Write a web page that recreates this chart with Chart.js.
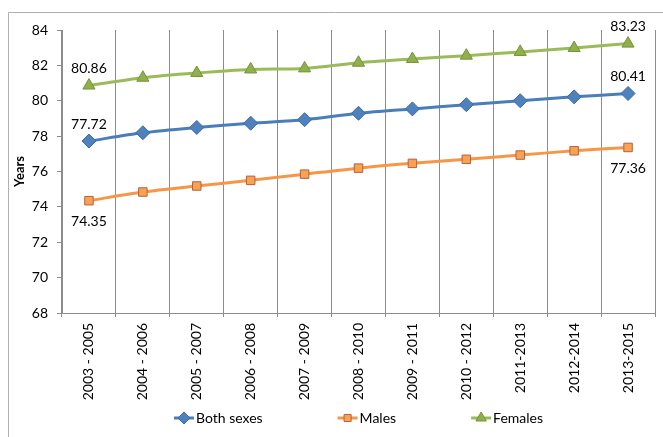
<!DOCTYPE html>
<html>
<head>
<meta charset="utf-8">
<script src="https://cdn.jsdelivr.net/npm/chart.js@4.4.0/dist/chart.umd.min.js"></script>
<style>
  html, body { margin: 0; padding: 0; background: #ffffff; }
  #wrap { position: relative; width: 663px; height: 437px; }
</style>
</head>
<body>
<div id="wrap"><canvas id="chart" width="663" height="437"></canvas></div>
<script>
// Kategorien (Zeiträume)
const periods = ["2003 - 2005", "2004 - 2006", "2005 - 2007", "2006 - 2008", "2007 - 2009",
  "2008 - 2010", "2009 - 2011", "2010 - 2012", "2011-2013", "2012-2014", "2013-2015"];

// Lebenserwartung in Jahren
const bothSexes = [77.72, 78.19, 78.49, 78.73, 78.93, 79.29, 79.54, 79.78, 80.0, 80.22, 80.41];
const males     = [74.35, 74.84, 75.18, 75.50, 75.85, 76.19, 76.46, 76.69, 76.93, 77.17, 77.36];
const females   = [80.86, 81.30, 81.57, 81.77, 81.83, 82.15, 82.36, 82.55, 82.76, 82.98, 83.23];

// Y-Achse
const yMin = 68;
const yMax = 84;
const yStep = 2;

const FONT = "Lato, 'Liberation Sans', sans-serif";
const GRID = '#8c8c8c';

// Werte-Beschriftung am ersten und letzten Punkt + Rahmen + Legende
const excelLook = {
  id: 'excelLook',
  beforeDraw(chart) {
    const ctx = chart.ctx;
    ctx.save();
    ctx.strokeStyle = '#b0b0b0';
    ctx.lineWidth = 1;
    ctx.beginPath();
    ctx.moveTo(8.5, chart.height);
    ctx.lineTo(8.5, 12.5);
    ctx.lineTo(chart.width, 12.5);
    ctx.stroke();
    ctx.restore();
  },
  afterDatasetsDraw(chart) {
    const ctx = chart.ctx;
    ctx.save();
    ctx.font = '14px ' + FONT;
    ctx.fillStyle = '#000000';
    ctx.textAlign = 'center';
    ctx.textBaseline = 'middle';
    chart.data.datasets.forEach((ds, i) => {
      const meta = chart.getDatasetMeta(i);
      const last = ds.data.length - 1;
      [0, last].forEach(idx => {
        const pt = meta.data[idx];
        const dy = ds.labelBelow ? 21 : -17;
        ctx.fillText(ds.data[idx].toFixed(2), pt.x, pt.y + dy);
      });
    });
    ctx.restore();
  },
  afterDraw(chart) {
    // Legende im Excel-Stil: Linie mit Marker, dann Text
    const ctx = chart.ctx;
    const area = chart.chartArea;
    ctx.save();
    ctx.font = '14px ' + FONT;
    ctx.textBaseline = 'middle';
    ctx.textAlign = 'left';
    const gap = 75, lineW = 20;
    const items = chart.data.datasets.map(ds => ({ds, w: lineW + 2 + ctx.measureText(ds.label).width}));
    const total = items.reduce((s, it) => s + it.w, 0) + gap * (items.length - 1);
    let x = (area.left + area.right) / 2 - total / 2;
    const y = 418;
    items.forEach(it => {
      const ds = it.ds;
      ctx.strokeStyle = ds.borderColor;
      ctx.lineWidth = 3;
      ctx.beginPath();
      ctx.moveTo(x, y);
      ctx.lineTo(x + lineW, y);
      ctx.stroke();
      ctx.fillStyle = ds.pointBackgroundColor;
      ctx.strokeStyle = ds.pointBorderColor;
      ctx.lineWidth = 1;
      Chart.helpers.drawPoint(ctx, {
        pointStyle: ds.pointStyle,
        radius: ds.pointRadius - 1,
        borderWidth: 1,
        rotation: 0
      }, x + lineW / 2, y);
      ctx.fillStyle = '#000000';
      ctx.fillText(ds.label, x + lineW + 2, y);
      x += it.w + gap;
    });
    ctx.restore();
  }
};

new Chart(document.getElementById('chart'), {
  type: 'line',
  data: {
    labels: periods,
    datasets: [
      {
        label: 'Both sexes',
        data: bothSexes,
        borderColor: '#4a7ebb',
        borderWidth: 3,
        pointStyle: 'rectRot',
        pointRadius: 7,
        pointBackgroundColor: '#4f81bd',
        pointBorderColor: '#3a6aa6',
        pointBorderWidth: 1,
        tension: 0.3
      },
      {
        label: 'Males',
        data: males,
        labelBelow: true,
        borderColor: '#f79646',
        borderWidth: 3,
        pointStyle: 'rect',
        pointRadius: 6,
        pointBackgroundColor: '#f9a24f',
        pointBorderColor: '#b3604a',
        pointBorderWidth: 1,
        tension: 0.3
      },
      {
        label: 'Females',
        data: females,
        borderColor: '#9bbb59',
        borderWidth: 3,
        pointStyle: 'triangle',
        pointRadius: 7,
        pointBackgroundColor: '#8fb04a',
        pointBorderColor: '#76923c',
        pointBorderWidth: 1,
        tension: 0.3
      }
    ]
  },
  options: {
    responsive: false,
    animation: false,
    layout: { padding: { left: 9, top: 30, right: 1, bottom: 0 } },
    plugins: {
      legend: { display: false },
      tooltip: { enabled: false }
    },
    scales: {
      x: {
        offset: true,
        afterFit: scale => { scale.height = 124; },
        grid: {
          offset: true,
          drawOnChartArea: true,
          tickLength: 4,
          color: ctx => ctx.index === periods.length ? 'rgba(0,0,0,0)' : GRID
        },
        border: { display: true, color: GRID, width: 1 },
        ticks: {
          autoSkip: false,
          minRotation: 90,
          maxRotation: 90,
          padding: 6,
          color: '#000000',
          font: { family: FONT, size: 14 }
        }
      },
      y: {
        min: yMin,
        max: yMax,
        afterFit: scale => { scale.width = 53; },
        grid: { drawOnChartArea: false, drawTicks: true, tickLength: 5, color: GRID },
        border: { display: true, color: GRID, width: 1 },
        ticks: {
          stepSize: yStep,
          padding: 9,
          color: '#000000',
          font: { family: FONT, size: 14 }
        },
        title: {
          display: true,
          text: 'Years',
          color: '#000000',
          padding: { top: 3, bottom: 0 },
          font: { family: FONT, size: 13, weight: 'bold' }
        }
      }
    }
  },
  plugins: [excelLook]
});
</script>
</body>
</html>
